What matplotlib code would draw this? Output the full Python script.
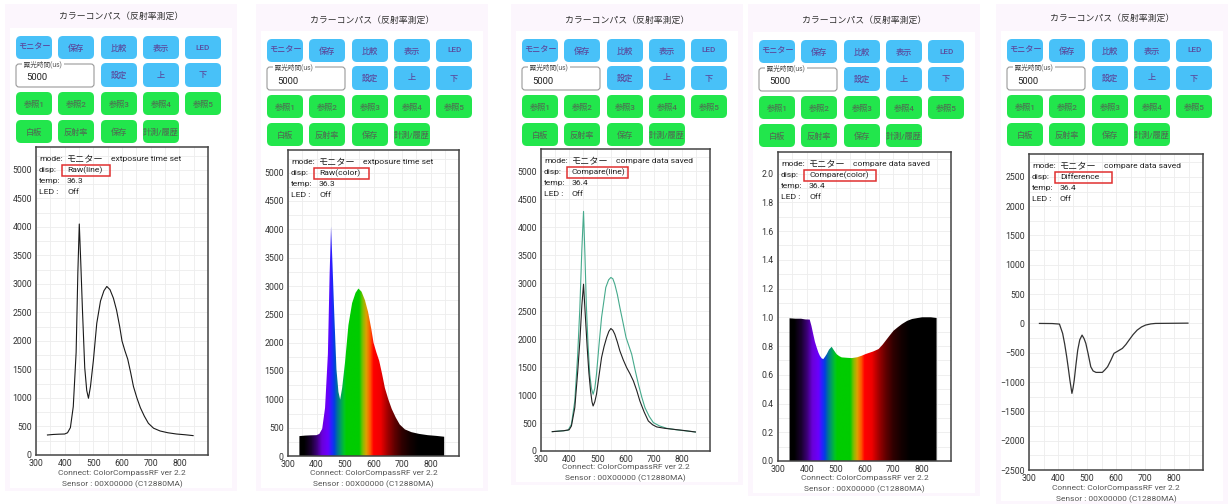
import numpy as np
import matplotlib
matplotlib.use("Agg")
import matplotlib.pyplot as plt
from matplotlib.patches import FancyBboxPatch, Rectangle, Polygon
from matplotlib.colors import LinearSegmentedColormap
from matplotlib.ticker import MultipleLocator

plt.rcParams['font.family'] = ['Roboto', 'Noto Sans CJK JP', 'DejaVu Sans']

W, H = 1230, 504

# ---- values ----
# raw spectrum (panels 1 and 2)
raw_wl = [340, 360, 380, 400, 410, 420, 430, 440, 446, 451, 456, 462, 470, 477,
          483, 490, 500, 512, 525, 537, 547, 558, 570, 581, 592, 600, 610, 620,
          630, 640, 652, 664, 678, 692, 710, 733, 760, 790, 820, 848]
raw_val = [351, 360, 365, 368, 390, 480, 848, 1800, 3200, 4050, 3400, 2550, 1530, 1130,
           995, 1200, 1650, 2310, 2700, 2880, 2955, 2900, 2750, 2540, 2250, 2000, 1830, 1680,
           1450, 1200, 1000, 830, 680, 556, 470, 421, 390, 368, 355, 340]

# compare (panel 3): saved data (green) and current data (black)
new_wl = [340, 360, 380, 396, 408, 420, 430, 438, 445, 451, 456, 461, 467, 473, 479,
          485, 491, 497, 506, 515, 530, 540, 548, 555, 562, 571, 580, 591, 602, 612,
          622, 634, 646, 658, 669, 684, 699, 720, 746, 780, 818, 848]
new_val = [346, 355, 362, 370, 477, 895, 1700, 2566, 3600, 4284, 3500, 2600, 1900, 1372, 1120,
           1014, 1120, 1372, 1900, 2387, 2924, 3060, 3103, 3080, 2983, 2800, 2566, 2300, 2029, 1880,
           1730, 1450, 1190, 960, 776, 620, 507, 450, 406, 380, 358, 340]
ref_wl = [340, 380, 400, 408, 420, 430, 438, 445, 451, 457, 464, 470, 476, 481, 485,
          491, 497, 506, 515, 524, 533, 541, 548, 555, 562, 571, 580, 592, 604, 616,
          628, 640, 651, 666, 681, 696, 711, 740, 770, 810, 848]
ref_val = [346, 362, 380, 447, 776, 1400, 1969, 2600, 2983, 2450, 1850, 1400, 1074, 880, 805,
           880, 1014, 1350, 1671, 1870, 2029, 2140, 2190, 2160, 2088, 1950, 1790, 1630, 1492, 1380,
           1253, 1080, 895, 700, 537, 470, 430, 405, 388, 365, 340]

# ratio (panel 4)
ratio_wl = [340, 360, 380, 395, 410, 416, 422, 428, 434, 440, 445, 451, 457, 463, 469,
            477, 486, 494, 503, 512, 521, 540, 556, 575, 591, 605, 614, 630, 649, 663,
            678, 690, 701, 715, 730, 748, 765, 785, 800, 830, 850]
ratio_val = [0.993, 0.99, 0.99, 0.985, 0.984, 0.94, 0.884, 0.83, 0.791, 0.755, 0.733, 0.715, 0.709, 0.725, 0.744,
             0.775, 0.795, 0.77, 0.744, 0.73, 0.721, 0.718, 0.716, 0.722, 0.733, 0.745, 0.751, 0.762, 0.779, 0.81,
             0.849, 0.88, 0.907, 0.93, 0.953, 0.975, 0.988, 0.995, 1.0, 1.0, 0.995]

# difference (panel 5)
diff_wl = [336, 380, 405, 416, 423, 430, 436, 441, 448, 452, 456, 462, 468, 475, 483,
           490, 496, 504, 513, 521, 531, 553, 562, 571, 582, 593, 607, 622, 634, 645,
           659, 673, 688, 702, 720, 736, 780, 848]
diff_val = [0, -2, -11, -170, -350, -568, -780, -966, -1193, -1100, -966, -700, -455, -280, -199,
            -260, -341, -520, -739, -810, -835, -835, -790, -739, -630, -511, -470, -426, -360, -284,
            -190, -114, -60, -28, -8, 0, 2, 5]

# colour used for each wavelength in the colour displays
spec_wl = [300, 355, 380, 400, 418, 440, 452, 462, 472, 485, 498, 505, 550, 562,
           575, 590, 600, 625, 650, 675, 700, 730, 760, 900]
spec_col = ['#000000', '#000000', '#1a0030', '#3c0078', '#6a00d8', '#6a00ff', '#2a20ff',
            '#0040e0', '#00709a', '#00a060', '#00c820', '#00cc00', '#00cc00', '#80c000',
            '#e0a000', '#ff5000', '#ff0000', '#f00000', '#a00000', '#600000', '#300000',
            '#120000', '#000000', '#000000']

title = "カラーコンパス（反射率測定）"
row1 = ["モニター", "保存", "比較", "表示", "LED"]
row2 = ["設定", "上", "下"]
row3 = ["参照1", "参照2", "参照3", "参照4", "参照5"]
row4 = ["白板", "反射率", "保存", "計測/履歴"]
disp_modes = ["Raw(line)", "Raw(color)", "Compare(line)", "Compare(color)", "Difference"]
mode_msgs = ["extposure time set", "extposure time set", "compare data saved",
             "compare data saved", "compare data saved"]
temps = ["36.3", "36.3", "36.4", "36.4", "36.4"]
footer1 = "Connect: ColorCompassRF ver 2.2"
footer2 = "Sensor : 00X00000 (C12880MA)"

spec_cmap = LinearSegmentedColormap.from_list(
    'spec', [((w - 300) / 600, c) for w, c in zip(spec_wl, spec_col)])

# ---- screen layout (pixels) ----
btn_x0 = [16, 267, 522, 759, 1007]
btn_y0 = [36, 39, 39, 40, 39]
title_y = [16, 20, 20, 20, 18]
boxes = [(36, 147, 208, 455), (288, 150, 459, 456), (541, 149, 710, 451),
         (778, 152, 951, 461), (1029, 154, 1203, 470)]
foot_y = [473, 473, 467, 478, 488]
red_w = [48, 55, 61, 72, 57]
col_dx = [0, 42, 85, 127, 169]
BLUE, GREEN = '#48c1f8', '#22e64c'
BLUE_TXT, GREEN_TXT = '#5a4b9e', '#4c7452'

fig = plt.figure(figsize=(W / 100, H / 100), dpi=100)
ui = fig.add_axes([0, 0, 1, 1], zorder=0)
top = fig.add_axes([0, 0, 1, 1], zorder=10)
for a in (ui, top):
    a.set_xlim(0, W)
    a.set_ylim(H, 0)
    a.axis('off')
top.patch.set_alpha(0)


def button(x, y, w, h, label, face, tc):
    ui.add_patch(FancyBboxPatch((x, y), w, h, boxstyle="round,pad=0,rounding_size=5",
                                facecolor=face, edgecolor='none'))
    ui.text(x + w / 2, y + h / 2, label, ha='center', va='center', fontsize=5.9,
            color=tc, fontweight='medium')


def spectrum_fill(ax, wl, val, ytop):
    grad = np.linspace(300, 900, 601).reshape(1, -1)
    im = ax.imshow(grad, extent=[300, 900, 0, ytop], aspect='auto', cmap=spec_cmap,
                   vmin=300, vmax=900, origin='lower', zorder=2, interpolation='bilinear')
    verts = [(wl[0], 0)] + list(zip(wl, val)) + [(wl[-1], 0)]
    clip = Polygon(verts, closed=True, facecolor='none', edgecolor='none')
    ax.add_patch(clip)
    im.set_clip_path(clip)


for i in range(5):
    bx, by = btn_x0[i], btn_y0[i]
    l, t, r, b = boxes[i]
    bottom = min(foot_y[i] + 18, H)
    # page background
    ui.add_patch(Rectangle((bx - 11, 4), 232, bottom - 4, facecolor='#fcf6fd', edgecolor='none'))
    ui.add_patch(Rectangle((bx - 6, by - 8), 222, bottom - by + 5, facecolor='white', edgecolor='none'))
    ui.text(bx + 105, title_y[i], title, ha='center', va='center', fontsize=6.4, color='#333333')

    for k, s in enumerate(row1):
        button(bx + col_dx[k], by, 36, 23, s, BLUE, BLUE_TXT)
    for k, s in enumerate(row2):
        button(bx + col_dx[k + 2], by + 27, 36, 24, s, BLUE, BLUE_TXT)
    for k, s in enumerate(row3):
        button(bx + col_dx[k], by + 56, 36, 23, s, GREEN, GREEN_TXT)
    for k, s in enumerate(row4):
        button(bx + col_dx[k], by + 84, 36, 23, s, GREEN, GREEN_TXT)
    # exposure time field
    ui.add_patch(FancyBboxPatch((bx, by + 28), 78, 23, boxstyle="round,pad=0,rounding_size=3",
                                facecolor='white', edgecolor='#9a9a9a', lw=0.8))
    ui.text(bx + 6, by + 28, " 露光時間(us) ", ha='left', va='center', fontsize=4.8,
            color='#555555', bbox=dict(facecolor='white', edgecolor='none', pad=0))
    ui.text(bx + 10, by + 42, "5000", ha='left', va='center', fontsize=6.8, color='#222222')

    ui.text((l + r) / 2, foot_y[i], footer1, ha='center', va='center', fontsize=6, color='#555555')
    ui.text((l + r) / 2, foot_y[i] + 11, footer2, ha='center', va='center', fontsize=6, color='#555555')

    ax = fig.add_axes([l / W, 1 - b / H, (r - l) / W, (b - t) / H], zorder=5)
    ax.set_facecolor('white')

    if i == 0:
        ax.plot(raw_wl, raw_val, color='#1a1a1a', lw=0.8, zorder=3)
    elif i == 1:
        spectrum_fill(ax, raw_wl, raw_val, 5400)
    elif i == 2:
        ax.plot(new_wl, new_val, color='#46aa8c', lw=0.8, zorder=3)
        ax.plot(ref_wl, ref_val, color='#222222', lw=0.8, zorder=3)
    elif i == 3:
        spectrum_fill(ax, ratio_wl, ratio_val, 2.15)
    else:
        ax.plot(diff_wl, diff_val, color='#333333', lw=0.9, zorder=3)

    ax.set_xlim(300, 900)
    ax.set_xticks(range(300, 900, 100))
    ax.xaxis.set_minor_locator(MultipleLocator(50))
    if i == 3:
        ax.set_ylim(0, 2.15)
        ax.set_yticks(np.arange(0, 2.01, 0.2))
        ax.set_yticklabels([f"{v:.1f}" for v in np.arange(0, 2.01, 0.2)])
        ax.yaxis.set_minor_locator(MultipleLocator(0.1))
    elif i == 4:
        ax.set_ylim(-2500, 2890)
        ax.set_yticks(range(-2500, 2501, 500))
        ax.yaxis.set_minor_locator(MultipleLocator(250))
    else:
        ax.set_ylim(0, 5400)
        ax.set_yticks(range(0, 5001, 500))
        ax.yaxis.set_minor_locator(MultipleLocator(250))
    ax.grid(which='both', color='#ededed', lw=0.6)
    ax.set_axisbelow(True)
    ax.tick_params(which='both', length=0, labelsize=6.3, colors='#333333', pad=3)
    for sp in ax.spines.values():
        sp.set_color('#444444')
        sp.set_linewidth(1.1)

    # status text
    rows = [("mode:", "モニター"), ("disp:", disp_modes[i]), ("temp:", temps[i]), ("LED :", "Off")]
    for j, (k, v) in enumerate(rows):
        yy = t + 12 + 11 * j
        top.text(l + 3, yy, k, ha='left', va='center', fontsize=6.1, color='#222222')
        top.text(l + 31, yy, v, ha='left', va='center',
                 fontsize=6.6 if j == 0 else 6.1, color='#222222')
    top.text(l + 75, t + 12, mode_msgs[i], ha='left', va='center', fontsize=6.1, color='#222222')
    top.add_patch(Rectangle((l + 26, t + 17.5), red_w[i], 11.5, facecolor='none',
                            edgecolor='#e03030', lw=1.1))

fig.savefig("out.png", dpi=100, facecolor='white')
